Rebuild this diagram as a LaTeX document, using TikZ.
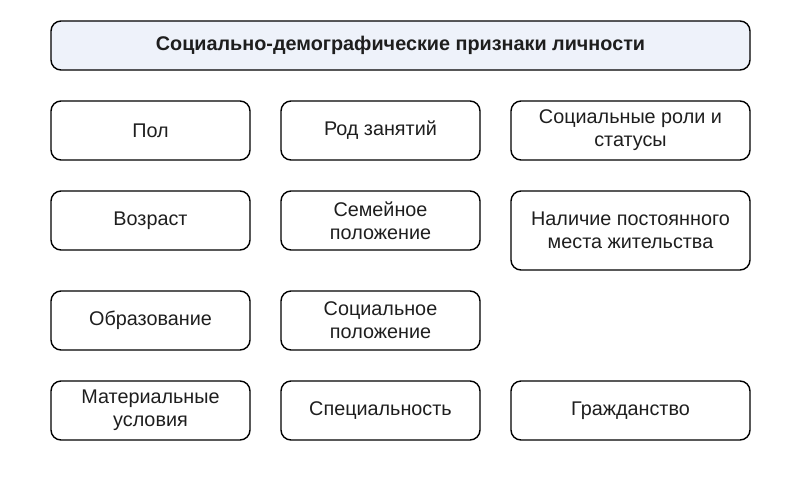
\documentclass[tikz,border=0pt]{standalone}
\usepackage{fontspec}
\setmainfont{Liberation Sans}
\usepackage{xcolor}
\usetikzlibrary{positioning}
\definecolor{headfill}{HTML}{EEF2FA}
\definecolor{textdark}{HTML}{1E1E1E}

\begin{document}
\begin{tikzpicture}[x=1pt,y=-1pt]
    \tikzset{block/.style= {draw, rectangle, rounded corners=10pt, line width=1.4pt, align=center, text=textdark, font=\fontsize{19.8}{23}\selectfont, minimum width=199pt, minimum height=59pt, inner sep=2pt},
      wblock/.style={block, minimum width=239pt},
      hblock/.style={block, fill=headfill, minimum width=699pt, minimum height=49pt, font=\bfseries\fontsize{19.8}{23}\selectfont},
    }
    \useasboundingbox (0,0) rectangle (800,480);
    \node[hblock] at (400.5,45.5) (head) {Социально-демографические признаки личности};

    \node[block] at (150.5,130.5) (pol) {Пол};
    \node[block] at (380.5,130.5) (rod) {Род занятий};
    \node[wblock] at (630.5,130.5) (roli) {Социальные роли и\\статусы};

    \node[block] at (150.5,220.5) (vozrast) {Возраст};
    \node[block] at (380.5,220.5) (semya) {Семейное\\положение};
    \node[wblock, minimum height=79pt] at (630.5,230.5) (mesto) {Наличие постоянного\\места жительства};

    \node[block] at (150.5,320.5) (obraz) {Образование};
    \node[block] at (380.5,320.5) (social) {Социальное\\положение};

    \node[block] at (150.5,410.5) (mater) {Материальные\\условия};
    \node[block] at (380.5,410.5) (spec) {Специальность};
    \node[wblock] at (630.5,410.5) (grazhd) {Гражданство};
  \end{tikzpicture}
\end{document}
